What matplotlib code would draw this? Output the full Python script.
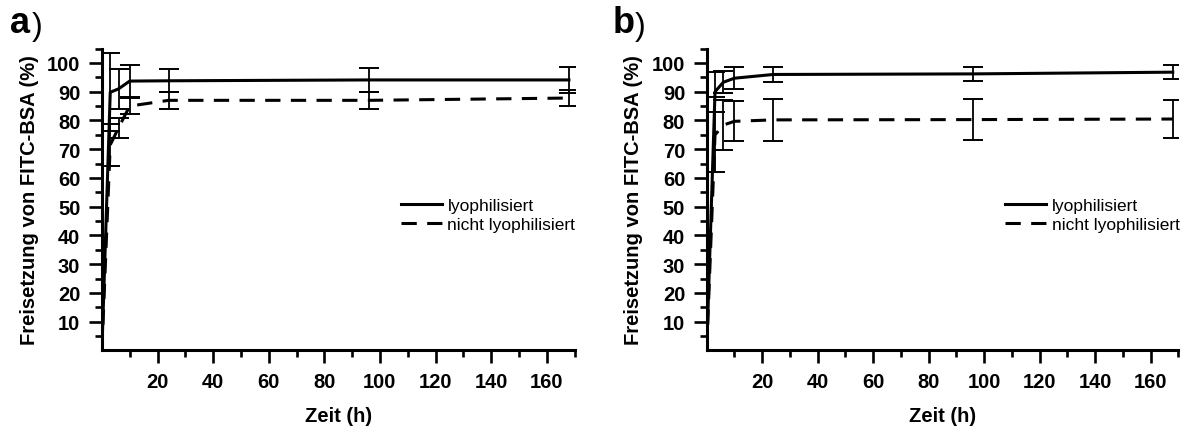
import matplotlib
matplotlib.use("Agg")
import matplotlib.pyplot as plt
from matplotlib.ticker import FixedLocator

plt.rcParams['font.family'] = ['Liberation Sans', 'DejaVu Sans']

# Time points (h)
zeit = [0, 3, 6, 10, 24, 96, 168]

# Panel a
a_lyo = [0, 89.8, 91.0, 93.7, 93.8, 94.1, 94.1]
a_lyo_err = [0, 13.6, 7.0, 5.5, 4.0, 4.1, 4.4]
a_nicht = [0, 71.5, 77.5, 85.0, 87.0, 87.0, 87.8]
a_nicht_err = [0, 7.2, 3.5, 2.8, 3.0, 2.9, 2.8]

# Panel b
b_lyo = [0, 90.0, 93.3, 94.7, 96.0, 96.2, 96.8]
b_lyo_err = [0, 7.0, 3.8, 3.8, 2.5, 2.5, 2.5]
b_nicht = [0, 75.0, 78.4, 79.7, 80.2, 80.3, 80.5]
b_nicht_err = [0, 13.0, 8.8, 7.0, 7.2, 7.0, 6.7]

label_lyo = "lyophilisiert"
label_nicht = "nicht lyophilisiert"
xlabel = "Zeit (h)"
ylabel = "Freisetzung von FITC-BSA (%)"
xticks = [20, 40, 60, 80, 100, 120, 140, 160]
yticks = [10, 20, 30, 40, 50, 60, 70, 80, 90, 100]

W, H = 1187, 427
fig = plt.figure(figsize=(W / 100, H / 100), dpi=100)

bottom = 1 - 351.4 / H
top = 1 - 49.6 / H
axa = fig.add_axes([101.9 / W, bottom, (574.5 - 101.9) / W, top - bottom])
axb = fig.add_axes([706.7 / W, bottom, (1178.3 - 706.7) / W, top - bottom])

dash = (0, (5, 3.4))

def draw(ax, lyo, lyo_err, nicht, nicht_err):
    ax.plot(zeit, lyo, color='black', lw=2.2, ls='-', label=label_lyo, zorder=3)
    ax.plot(zeit, nicht, color='black', lw=2.2, ls=dash, label=label_nicht, zorder=3)
    ax.errorbar(zeit[1:], lyo[1:], yerr=lyo_err[1:], fmt='none', ecolor='black',
                elinewidth=1.3, capsize=7, capthick=1.4, zorder=4)
    ax.errorbar(zeit[1:], nicht[1:], yerr=nicht_err[1:], fmt='none', ecolor='black',
                elinewidth=1.3, capsize=7, capthick=1.4, zorder=4)
    ax.set_xlim(0, 170)
    ax.set_ylim(0, 105)
    for s in ['top', 'right']:
        ax.spines[s].set_visible(False)
    for s in ['left', 'bottom']:
        ax.spines[s].set_linewidth(2.2)
    ax.set_xticks(xticks)
    ax.set_yticks(yticks)
    ax.xaxis.set_minor_locator(FixedLocator(list(range(10, 171, 20))))
    ax.yaxis.set_minor_locator(FixedLocator(list(range(5, 106, 10))))
    ax.tick_params(which='major', direction='out', length=9.5, width=1.9, pad=6)
    ax.tick_params(which='minor', direction='out', length=5, width=1.9)
    for lab in ax.get_xticklabels() + ax.get_yticklabels():
        lab.set_fontweight('bold')
        lab.set_fontsize(14.5)
    ax.set_xlabel(xlabel, fontsize=14.5, fontweight='bold', labelpad=10.5)
    ax.set_ylabel(ylabel, fontsize=14.5, fontweight='bold', labelpad=6)
    ax.legend(loc='upper left', bbox_to_anchor=(0.632, 0.505), frameon=False,
              fontsize=12.5, handlelength=2.4, handletextpad=0.3,
              labelspacing=0.2, borderpad=0, borderaxespad=0)

draw(axa, a_lyo, a_lyo_err, a_nicht, a_nicht_err)
draw(axb, b_lyo, b_lyo_err, b_nicht, b_nicht_err)

for x0, letter in [(10, 'a'), (613, 'b')]:
    fig.text(x0 / W, 1 - 33 / H, letter, fontsize=26, fontweight='bold', va='baseline', ha='left')
    fig.text((x0 + 22) / W, 1 - 35 / H, ')', fontsize=23, va='baseline', ha='left')

fig.savefig('out.png', dpi=100)
